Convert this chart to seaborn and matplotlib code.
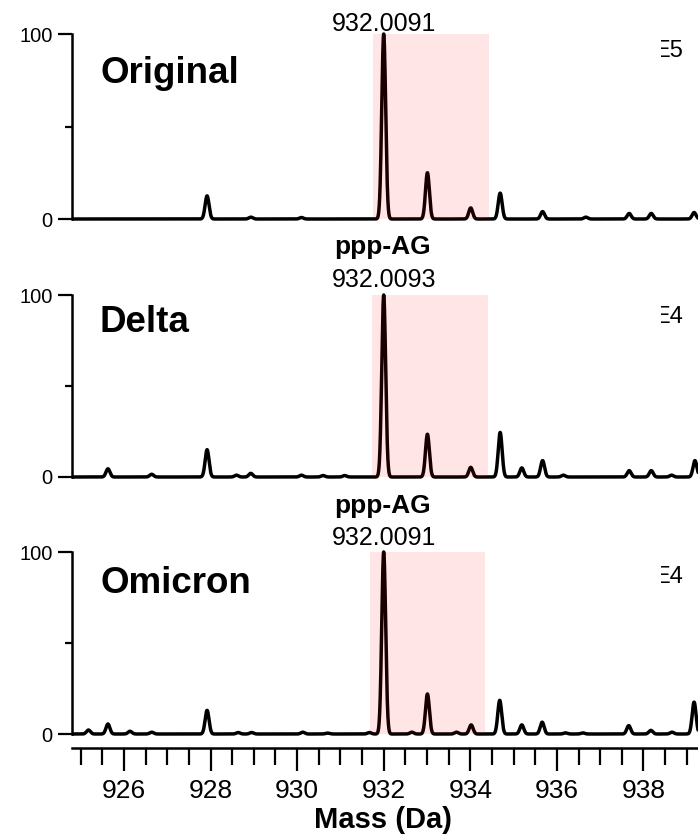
import numpy as np
import pandas as pd
import matplotlib
matplotlib.use("Agg")
import matplotlib.pyplot as plt
import seaborn as sns
from matplotlib.patches import Rectangle
from matplotlib.ticker import MultipleLocator, FixedLocator

# Data (m/z in Da, relative intensity in %)

panel_names = ["Original", "Delta", "Omicron"]
peak_labels = ["932.0091", "932.0093", "932.0091"]
scale_labels = ["E5", "E4", "E4"]
compound_label = "ppp-AG"

original_mz = [927.92, 928.93, 930.10, 932.00, 933.01, 934.01, 934.69,
               935.67, 936.67, 937.67, 938.18, 939.17]
original_int = [12.5, 1.0, 0.8, 100, 25, 6, 14, 4, 1, 3, 3, 3.5]

delta_mz = [925.63, 926.64, 927.92, 928.60, 928.93, 930.10, 930.60, 931.10,
            932.00, 933.01, 934.01, 934.69, 935.19, 935.67, 936.15, 937.67,
            938.18, 938.65, 939.19]
delta_int = [4.5, 1.5, 15, 1, 2, 1, 0.8, 0.8, 100, 23.5, 5.3, 24.5, 5, 9, 1,
             3.5, 3.5, 1, 9]

omicron_mz = [925.18, 925.63, 926.14, 926.64, 927.92, 928.64, 928.95, 930.13,
              930.70, 931.67, 932.00, 932.65, 933.01, 933.68, 934.02, 934.68,
              935.19, 935.66, 936.20, 936.60, 937.66, 938.17, 938.66, 939.17]
omicron_int = [2.2, 5.5, 1.5, 1, 13, 0.8, 0.8, 1, 0.5, 0.8, 100, 1, 22, 1, 5,
               18.5, 5, 6.5, 0.6, 0.6, 4.6, 2, 1, 17.5]

highlight_lo = [931.75, 931.72, 931.68]
highlight_hi = [934.43, 934.40, 934.35]

peaks = [(original_mz, original_int), (delta_mz, delta_int),
         (omicron_mz, omicron_int)]


def profile(mz, inten, grid, sigma=0.045):
    """Turn centroid peaks into a profile trace."""
    y = np.zeros_like(grid)
    for m, h in zip(mz, inten):
        y += h * np.exp(-0.5 * ((grid - m) / sigma) ** 2)
    return y


# Layout (pixel positions in a 698x834 figure)
W, H = 698, 834
left_px, right_px = 72, 698
y100_px = [34, 295, 552]
y0_px = [219, 477, 734]
axis_line_px = 748
ylo, yhi = -3, 103
xlim = (924.80, 939.26)

sns.set_style("ticks")
plt.rcParams["font.family"] = ["Liberation Sans", "DejaVu Sans"]
plt.rcParams.update({
    "text.color": "black",
    "axes.labelcolor": "black",
    "axes.edgecolor": "black",
    "xtick.color": "black",
    "ytick.color": "black",
})

fig = plt.figure(figsize=(W / 100, H / 100), dpi=100)
grid = np.linspace(924.5, 939.6, 5000)

for i, (mz, inten) in enumerate(peaks):
    span = y0_px[i] - y100_px[i]
    top = y100_px[i] - span * (yhi - 100) / 100
    bot = y0_px[i] + span * (0 - ylo) / 100
    ax = fig.add_axes([left_px / W, 1 - bot / H,
                       (right_px - left_px) / W, (bot - top) / H])

    df = pd.DataFrame({"mz": grid, "intensity": profile(mz, inten, grid)})
    sns.lineplot(data=df, x="mz", y="intensity", ax=ax, color="black",
                 lw=2.5, estimator=None, sort=False)
    ax.fill_betweenx([0, 100], highlight_lo[i], highlight_hi[i],
                     color="red", alpha=0.1, lw=0, zorder=4)

    ax.set_xlim(*xlim)
    ax.set_ylim(ylo, yhi)
    ax.set_xlabel("")
    ax.set_ylabel("")
    sns.despine(ax=ax, right=True, top=True)
    ax.spines["left"].set_bounds(0, 100)
    ax.spines["left"].set_linewidth(1.8)
    ax.yaxis.set_major_locator(FixedLocator([0, 100]))
    ax.yaxis.set_minor_locator(FixedLocator([50]))
    ax.tick_params(axis="y", which="major", length=10, width=1.6,
                   labelsize=14.5, pad=4)
    ax.tick_params(axis="y", which="minor", length=5, width=1.6)

    if i < 2:
        ax.spines["bottom"].set_visible(False)
        ax.set_xticks([])
    else:
        offset_pt = (axis_line_px - bot) * 72 / 100
        ax.spines["bottom"].set_position(("outward", offset_pt))
        ax.spines["bottom"].set_linewidth(1.8)
        ax.xaxis.set_major_locator(MultipleLocator(2))
        ax.xaxis.set_minor_locator(MultipleLocator(0.5))
        ax.tick_params(axis="x", which="major", length=16.5, width=1.6,
                       labelsize=19, pad=6)
        ax.tick_params(axis="x", which="minor", length=12, width=1.6)

# Annotations
name_base = [83, 332, 593]
mass_base = [31, 287, 545]
cmpd_base = [None, 254, 513]
scale_base = [57, 323, 583]

for i in range(3):
    fig.text(100 / W, 1 - name_base[i] / H, panel_names[i], ha="left",
             va="baseline", fontsize=26.5, fontweight="bold")
    fig.text(384 / W, 1 - mass_base[i] / H, peak_labels[i], ha="center",
             va="baseline", fontsize=18)
    if cmpd_base[i] is not None:
        fig.text(383 / W, 1 - cmpd_base[i] / H, compound_label, ha="center",
                 va="baseline", fontsize=19, fontweight="bold")
    fig.text(683 / W, 1 - scale_base[i] / H, scale_labels[i], ha="right",
             va="baseline", fontsize=17, zorder=3)
    # the left part of the scale label is masked in the original
    fig.add_artist(Rectangle((630 / W, 1 - (scale_base[i] + 4) / H),
                             31 / W, 28 / H, transform=fig.transFigure,
                             facecolor="white", edgecolor="none",
                             zorder=10))

fig.text(383 / W, 1 - 820 / H, "Mass (Da)", ha="center", va="center",
         fontsize=21, fontweight="bold")

fig.savefig("out.png", dpi=100)
